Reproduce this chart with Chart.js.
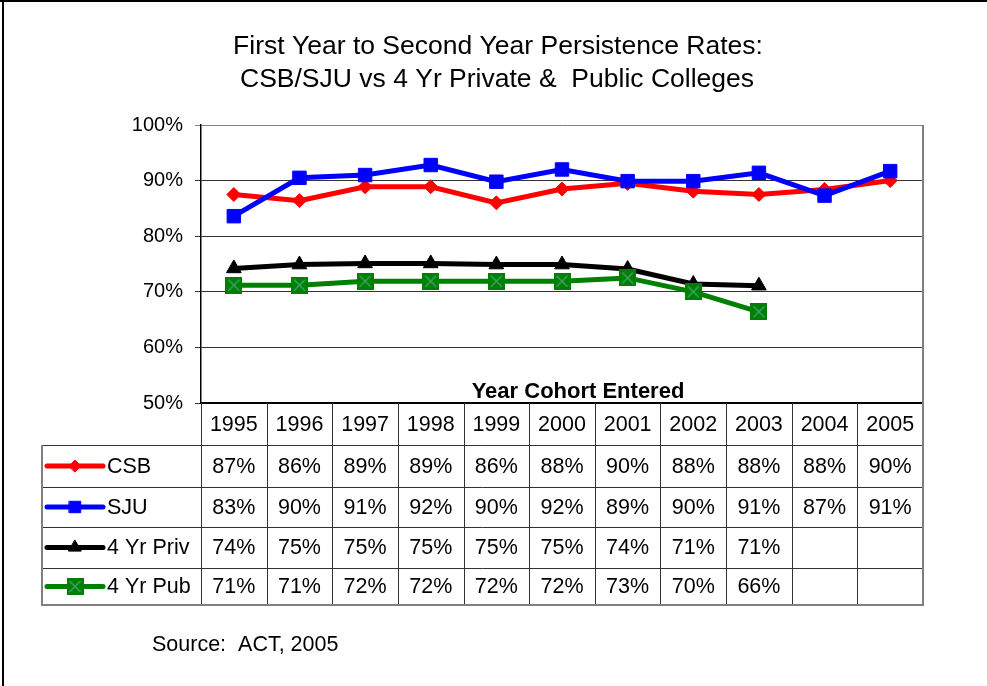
<!DOCTYPE html>
<html><head><meta charset="utf-8">
<script src="https://cdn.jsdelivr.net/npm/chart.js@4.4.1/dist/chart.umd.min.js"></script>
<style>html,body{margin:0;padding:0;background:#fff;overflow:hidden}
#wrap{position:relative;width:987px;height:686px;}
</style></head><body><div id="wrap"><canvas id="c" width="987" height="686"></canvas></div>
<script>
// ---- data ----
const years = ['1995','1996','1997','1998','1999','2000','2001','2002','2003','2004','2005'];
const seriesNames = ['CSB','SJU','4 Yr Priv','4 Yr Pub'];
// plotted values
const csb  = [87.5, 86.4, 88.9, 88.9, 86.0, 88.5, 89.5, 88.1, 87.5, 88.4, 90.0];
const sju  = [83.6, 90.5, 91.0, 92.8, 89.8, 92.0, 89.9, 89.9, 91.4, 87.3, 91.7];
const priv = [74.2, 74.9, 75.1, 75.1, 74.9, 74.9, 74.1, 71.4, 71.1, null, null];
const pub  = [71.2, 71.2, 71.9, 71.9, 71.9, 71.9, 72.5, 70.0, 66.4, null, null];
// data table values (as printed)
const csbTable  = ['87%','86%','89%','89%','86%','88%','90%','88%','88%','88%','90%'];
const sjuTable  = ['83%','90%','91%','92%','90%','92%','89%','90%','91%','87%','91%'];
const privTable = ['74%','75%','75%','75%','75%','75%','74%','71%','71%','',''];
const pubTable  = ['71%','71%','72%','72%','72%','72%','73%','70%','66%','',''];
const yMin = 50, yMax = 100, yStep = 10;
const titleLines = ['First Year to Second Year Persistence Rates:', 'CSB/SJU vs 4 Yr Private &  Public Colleges'];
const xAxisTitle = 'Year Cohort Entered';
const sourceText = 'Source:  ACT, 2005';

// ---- styles ----
const FONT = '"Liberation Sans", Arial, sans-serif';
function makeXSquare(size){
  const c = document.createElement('canvas'); c.width = size; c.height = size;
  const g = c.getContext('2d');
  g.fillStyle = '#008000'; g.fillRect(0,0,size,size);
  g.strokeStyle = '#3fa277'; g.lineWidth = 1.4;
  g.beginPath(); g.moveTo(3,3); g.lineTo(size-3,size-3); g.moveTo(size-3,3); g.lineTo(3,size-3); g.stroke();
  return c;
}
const pubMarker = makeXSquare(17);

const styles = [
  {color:'#ff0000', pointStyle:'rectRot', radius:7},
  {color:'#0000ff', pointStyle:'rect', radius:9.5},
  {color:'#000000', pointStyle:'triangle', radius:8.5},
  {color:'#008000', pointStyle:pubMarker, radius:9}
];
const values = [csb, sju, priv, pub];
const tables = [csbTable, sjuTable, privTable, pubTable];

const datasets = values.map((v,i)=>({
  label: seriesNames[i], data: v,
  borderColor: styles[i].color, backgroundColor: styles[i].color,
  borderWidth: 5, pointStyle: styles[i].pointStyle, pointRadius: styles[i].radius,
  pointBorderWidth: 1, pointBorderColor: styles[i].color, pointBackgroundColor: styles[i].color,
  tension: 0, order: 4 - i, clip: false
}));

const rowHeights = [42, 42, 40, 41, 37];

const tablePlugin = {
  id: 'tableAndText',
  afterDraw(chart){
    const ctx = chart.ctx, ca = chart.chartArea, xs = chart.scales.x;
    const n = years.length;
    const half = (xs.getPixelForValue(1) - xs.getPixelForValue(0))/2;
    const right = xs.getPixelForValue(n-1) + half;
    const legLeft = 42;
    const ys = [ca.bottom];
    rowHeights.forEach(h=>ys.push(ys[ys.length-1]+h));
    ctx.save();
    // plot area right border
    ctx.strokeStyle = '#808080'; ctx.lineWidth = 2;
    ctx.beginPath(); ctx.moveTo(ca.right, ca.top); ctx.lineTo(ca.right, ca.bottom); ctx.stroke();
    // inner table lines
    ctx.strokeStyle = '#333'; ctx.lineWidth = 1;
    for (let r = 1; r < ys.length-1; r++){
      ctx.beginPath(); ctx.moveTo(legLeft, ys[r]+0.5); ctx.lineTo(right, ys[r]+0.5); ctx.stroke();
    }
    for (let i = 0; i < n; i++){
      const x = Math.round(xs.getPixelForValue(i) - half) + 0.5;
      ctx.beginPath(); ctx.moveTo(x, ys[0]); ctx.lineTo(x, ys[ys.length-1]); ctx.stroke();
    }
    // outer border (grey)
    ctx.strokeStyle = '#808080'; ctx.lineWidth = 2;
    ctx.beginPath();
    ctx.moveTo(right, ys[0]); ctx.lineTo(right, ys[ys.length-1]);
    ctx.lineTo(legLeft, ys[ys.length-1]); ctx.lineTo(legLeft, ys[1]);
    ctx.stroke();
    // texts
    ctx.fillStyle = '#000'; ctx.textBaseline = 'middle'; ctx.textAlign = 'center';
    ctx.font = '21.5px ' + FONT;
    for (let i = 0; i < n; i++){
      const cx = xs.getPixelForValue(i);
      ctx.fillText(years[i], cx, (ys[0]+ys[1])/2 + 1);
      tables.forEach((t, r)=>{ if (t[i]) ctx.fillText(t[i], cx, (ys[r+1]+ys[r+2])/2 + 1); });
    }
    // legend keys
    seriesNames.forEach((name, r)=>{
      const cy = (ys[r+1]+ys[r+2])/2;
      ctx.strokeStyle = styles[r].color; ctx.lineWidth = 5; ctx.lineCap = 'round';
      ctx.beginPath(); ctx.moveTo(47, cy); ctx.lineTo(103, cy); ctx.stroke();
      ctx.fillStyle = styles[r].color; ctx.strokeStyle = styles[r].color; ctx.lineWidth = 1;
      Chart.helpers.drawPoint(ctx, {pointStyle: styles[r].pointStyle, radius: styles[r].radius * 0.85, rotation: 0, borderWidth: 1}, 75, cy);
      ctx.fillStyle = '#000'; ctx.textAlign = 'left'; ctx.font = '21.5px ' + FONT;
      ctx.fillText(name, 107, cy + 1);
    });
    // axis title inside plot
    ctx.textAlign = 'center'; ctx.font = 'bold 22px ' + FONT;
    ctx.fillText(xAxisTitle, 578, ca.bottom - 11);
    // chart title
    ctx.font = '26.5px ' + FONT;
    ctx.fillText(titleLines[0], 498, 47);
    ctx.fillText(titleLines[1], 497, 80);
    // source
    ctx.textAlign = 'left'; ctx.font = '21.5px ' + FONT;
    ctx.fillText(sourceText, 152, 645);
    // outer frame (left and top)
    ctx.fillStyle = '#000';
    ctx.fillRect(0, 0, 987, 2);
    ctx.fillRect(2, 0, 2, 686);
    ctx.restore();
  }
};

new Chart(document.getElementById('c'), {
  type: 'line',
  data: { labels: years, datasets },
  options: {
    responsive: false, animation: false, devicePixelRatio: 1,
    layout: { padding: { top: 125, right: 64, left: 0, bottom: 0 } },
    plugins: { legend: {display:false}, tooltip: {enabled:false}, title: {display:false} },
    scales: {
      x: {
        type: 'category', offset: true,
        grid: { display: false },
        border: { display: true, color: '#000', width: 2 },
        ticks: { display: false },
        afterFit(s){ s.height = 283; }
      },
      y: {
        min: yMin, max: yMax,
        ticks: { stepSize: yStep, callback: v => v + '%', color: '#000', font: { family: FONT, size: 20 }, padding: 12 },
        grid: { color: ctx => ctx.tick && ctx.tick.value === yMax ? '#808080' : '#333', lineWidth: 1, tickLength: 6, drawTicks: true },
        border: { display: true, color: '#000', width: 1.5 },
        afterFit(s){ s.width = 201; }
      }
    }
  },
  plugins: [tablePlugin]
});
</script></body></html>
